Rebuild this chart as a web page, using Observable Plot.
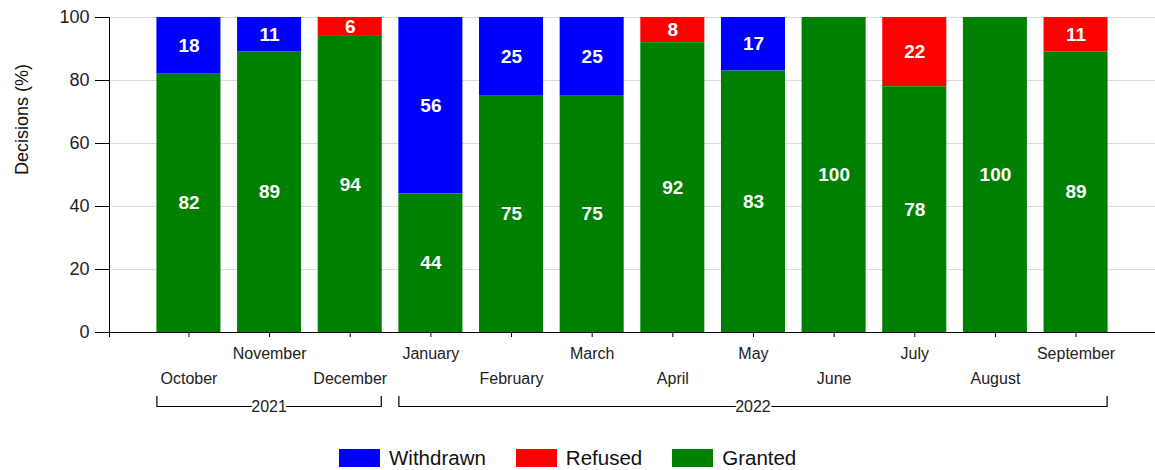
<!DOCTYPE html>
<html>
<head>
<meta charset="utf-8">
<script src="https://cdn.jsdelivr.net/npm/d3@7"></script>
<script src="https://cdn.jsdelivr.net/npm/@observablehq/plot@0.6"></script>
<style>
  body { margin: 0; background: #fff; font-family: "Liberation Sans", Arial, sans-serif; }
  #legend { display: flex; align-items: center; height: 40px; margin-top: 8px; padding-left: 339px; font-size: 20.5px; color: #111; }
  #legend .item { display: flex; align-items: center; margin-right: 30px; }
  #legend .sw { width: 41px; height: 18px; margin-right: 9px; }
</style>
</head>
<body>
<div id="chart"></div>
<div id="legend"></div>
<script>
const months = ["October","November","December","January","February","March","April","May","June","July","August","September"];
const withdrawn = [18,11,0,56,25,25,0,17,0,0,0,0];
const refused   = [0,0,6,0,0,0,8,0,0,22,0,11];
const granted   = [82,89,94,44,75,75,92,83,100,78,100,89];
const seriesNames = ["Withdrawn","Refused","Granted"];
const seriesColors = ["#0000ff","#ff0000","#008000"];
const stackOrder = ["Granted","Refused","Withdrawn"];
const yTicks = [0,20,40,60,80,100];
const yearLabels = ["2021","2022"];
const yearStart = ["October","January"];
const yearEnd = ["December","September"];

const data = [];
months.forEach((m, i) => {
  [["Withdrawn", withdrawn[i]], ["Refused", refused[i]], ["Granted", granted[i]]].forEach(([s, v]) => {
    if (v > 0) data.push({month: m, series: s, value: v});
  });
});
const upperMonths = months.filter((m, i) => i % 2 === 1);
const lowerMonths = months.filter((m, i) => i % 2 === 0);

const chart = Plot.plot({
  width: 1155,
  height: 430,
  marginTop: 17,
  marginBottom: 98,
  marginLeft: 109,
  marginRight: 0,
  style: {fontFamily: "'Liberation Sans', Arial, sans-serif", background: "#fff", color: "#222"},
  x: {domain: months, paddingInner: 0.206, paddingOuter: 0.588, round: false, axis: null},
  y: {domain: [0, 100], axis: null},
  color: {domain: seriesNames, range: seriesColors},
  marks: [
    Plot.gridY(yTicks.filter(t => t > 0), {stroke: "#dcdcdc", strokeOpacity: 1}),
    Plot.barY(data, {x: "month", y: "value", fill: "series", z: "series", order: stackOrder}),
    Plot.text(data, Plot.stackY({x: "month", y: "value", z: "series", order: stackOrder, text: d => String(d.value), fill: "white", fontWeight: "bold", fontSize: 19})),
    Plot.ruleY([0], {stroke: "#000"}),
    Plot.axisY(yTicks, {tickSize: 14, tickPadding: 6, fontSize: 18, label: null, stroke: "#000"}),
    Plot.axisX(upperMonths, {tickSize: 5, tickPadding: 10, fontSize: 16, label: null, stroke: "#000"}),
    Plot.axisX(lowerMonths, {tickSize: 5, tickPadding: 35, fontSize: 16, label: null, stroke: "#000"}),
    Plot.text(["Decisions (%)"], {frameAnchor: "left", rotate: -90, dx: -87, fontSize: 18, fill: "#111"})
  ]
});
document.getElementById("chart").appendChild(chart);

// y-axis line and year brackets using the plot's own scales
const xs = chart.scale("x");
const ys = chart.scale("y");
const svg = d3.select(chart);
const x0 = xs.range[0];
svg.append("line").attr("x1", x0 + 0.5).attr("x2", x0 + 0.5)
  .attr("y1", ys.apply(100)).attr("y2", ys.apply(0) + 5).attr("stroke", "#000");
const by = 406, bh = 10;
yearLabels.forEach((lab, i) => {
  const a = xs.apply(yearStart[i]);
  const b = xs.apply(yearEnd[i]) + xs.bandwidth;
  svg.append("path")
    .attr("d", `M${a + 0.5},${by - bh}V${by + 0.5}H${b - 0.5}V${by - bh}`)
    .attr("fill", "none").attr("stroke", "#000").attr("stroke-width", 1.2);
  svg.append("text")
    .attr("x", (a + b) / 2).attr("y", by).attr("dy", "0.35em")
    .attr("text-anchor", "middle").attr("font-size", 16)
    .attr("font-family", "'Liberation Sans', Arial, sans-serif")
    .attr("fill", "#222").attr("stroke", "#fff").attr("stroke-width", 5)
    .attr("paint-order", "stroke").text(lab);
});

// legend
const legend = d3.select("#legend");
seriesNames.forEach((s, i) => {
  const item = legend.append("div").attr("class", "item");
  item.append("div").attr("class", "sw").style("background", seriesColors[i]);
  item.append("span").text(s);
});
</script>
</body>
</html>
